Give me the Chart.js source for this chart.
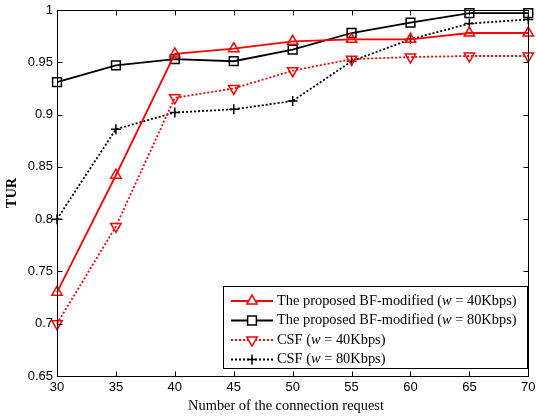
<!DOCTYPE html>
<html><head><meta charset="utf-8">
<script src="https://cdn.jsdelivr.net/npm/chart.js@4"></script>
<style>html,body{margin:0;padding:0;background:#fff}#wrap{width:536px;height:418px}</style>
</head><body><div id="wrap"><canvas id="c" width="536" height="418"></canvas></div>
<script>
const requests = [30, 35, 40, 45, 50, 55, 60, 65, 70];
const bf40  = [0.730, 0.842, 0.958, 0.963, 0.970, 0.972, 0.972, 0.978, 0.978];
const bf80  = [0.931, 0.947, 0.953, 0.951, 0.962, 0.978, 0.988, 0.997, 0.997];
const csf40 = [0.700, 0.793, 0.916, 0.925, 0.942, 0.953, 0.955, 0.956, 0.956];
const csf80 = [0.800, 0.886, 0.902, 0.905, 0.913, 0.951, 0.972, 0.987, 0.991];
const xTicks = [30, 35, 40, 45, 50, 55, 60, 65, 70];
const yTicks = [0.65, 0.7, 0.75, 0.8, 0.85, 0.9, 0.95, 1];
const seriesNames = [
  ["The proposed BF-modified (", "w", " = 40Kbps)"],
  ["The proposed BF-modified (", "w", " = 80Kbps)"],
  ["CSF (", "w", " = 40Kbps)"],
  ["CSF (", "w", " = 80Kbps)"]
];
const xTitle = "Number of the connection request";
const yTitle = "TUR";

const pts = v => requests.map((x, i) => ({x: x, y: v[i]}));
const styles = [
  {color: '#ff0000', dash: [], pointStyle: 'triangle', rot: 0, r: 6},
  {color: '#000000', dash: [], pointStyle: 'rect', rot: 0, r: 6.2},
  {color: '#ff0000', dash: [2, 2], pointStyle: 'triangle', rot: 180, r: 6},
  {color: '#000000', dash: [2, 2], pointStyle: 'cross', rot: 0, r: 5}
];
const values = [bf40, bf80, csf40, csf80];
const datasets = values.map((v, i) => ({
  label: seriesNames[i].join(''),
  data: pts(v),
  borderColor: styles[i].color,
  backgroundColor: 'rgba(0,0,0,0)',
  borderWidth: 1.8,
  borderDash: styles[i].dash,
  pointStyle: styles[i].pointStyle,
  pointRotation: styles[i].rot,
  pointRadius: styles[i].r,
  pointBorderWidth: 1.5,
  pointBorderColor: styles[i].color,
  pointBackgroundColor: 'rgba(0,0,0,0)',
  tension: 0,
  clip: false
}));

const decor = {
  id: 'decor',
  afterDraw(chart) {
    const ctx = chart.ctx, a = chart.chartArea;
    const xs = chart.scales.x, ys = chart.scales.y;
    ctx.save();
    ctx.strokeStyle = '#000'; ctx.lineWidth = 1; ctx.setLineDash([]);
    const L = Math.round(a.left) + 0.5, R = Math.round(a.right) + 0.5;
    const T = Math.round(a.top) + 0.5, B = Math.round(a.bottom) + 0.5;
    ctx.strokeRect(L, T, R - L, B - T);
    const tl = 5;
    ctx.beginPath();
    xTicks.forEach(v => {
      const px = Math.round(xs.getPixelForValue(v)) + 0.5;
      ctx.moveTo(px, B); ctx.lineTo(px, B - tl);
      ctx.moveTo(px, T); ctx.lineTo(px, T + tl);
    });
    yTicks.forEach(v => {
      const py = Math.round(ys.getPixelForValue(v)) + 0.5;
      ctx.moveTo(L, py); ctx.lineTo(L + tl, py);
      ctx.moveTo(R, py); ctx.lineTo(R - tl, py);
    });
    ctx.stroke();
    // axis titles
    ctx.fillStyle = '#000';
    ctx.font = '14.4px "Liberation Serif"';
    ctx.textAlign = 'center'; ctx.textBaseline = 'middle';
    ctx.fillText(xTitle, 286, 406);
    ctx.save();
    ctx.translate(12, (a.top + a.bottom) / 2);
    ctx.rotate(-Math.PI / 2);
    ctx.font = 'bold 14.4px "Liberation Serif"';
    ctx.fillText(yTitle, 0, 0);
    ctx.restore();
    // legend
    const lx = 223.5, ly = 286.5, lw = 304, lh = 82;
    ctx.fillStyle = '#fff';
    ctx.fillRect(lx, ly, lw, lh);
    ctx.strokeStyle = '#000'; ctx.lineWidth = 1;
    ctx.strokeRect(lx, ly, lw, lh);
    const rows = [301, 320.5, 340, 359.5];
    chart.data.datasets.forEach((ds, i) => {
      const y = rows[i];
      ctx.strokeStyle = ds.borderColor; ctx.lineWidth = ds.borderWidth;
      ctx.setLineDash(ds.borderDash);
      ctx.beginPath(); ctx.moveTo(231, y); ctx.lineTo(273, y); ctx.stroke();
      ctx.setLineDash([]);
      ctx.lineWidth = ds.pointBorderWidth;
      ctx.fillStyle = '#fff';
      Chart.helpers.drawPoint(ctx, {pointStyle: ds.pointStyle, rotation: ds.pointRotation, radius: ds.pointRadius, borderWidth: ds.pointBorderWidth}, 252, y);
      ctx.fillStyle = '#000'; ctx.textAlign = 'left'; ctx.textBaseline = 'middle';
      let x = 277;
      const parts = seriesNames[i];
      parts.forEach((p, k) => {
        ctx.font = (k === 1 ? 'italic ' : '') + '14.4px "Liberation Serif"';
        ctx.fillText(p, x, y);
        x += ctx.measureText(p).width;
      });
    });
    ctx.restore();
  }
};

new Chart(document.getElementById('c'), {
  type: 'line',
  data: {datasets: datasets},
  options: {
    responsive: false,
    animation: false,
    layout: {padding: {top: 10, right: 4, left: 0, bottom: 0}},
    plugins: {legend: {display: false}, tooltip: {enabled: false}},
    scales: {
      x: {
        type: 'linear', min: 30, max: 70,
        afterFit: s => { s.height = 42; s.paddingRight = 0; s.paddingLeft = 0; },
        afterBuildTicks: s => { s.ticks = xTicks.map(v => ({value: v})); },
        grid: {display: false, drawTicks: false},
        border: {display: false},
        ticks: {color: '#000', font: {family: 'Liberation Sans', size: 13}, padding: 4, maxRotation: 0, autoSkip: false}
      },
      y: {
        type: 'linear', min: 0.65, max: 1,
        afterFit: s => { s.width = 57; s.paddingTop = 0; s.paddingBottom = 0; },
        afterBuildTicks: s => { s.ticks = yTicks.map(v => ({value: v})); },
        grid: {display: false, drawTicks: false},
        border: {display: false},
        ticks: {color: '#000', font: {family: 'Liberation Sans', size: 13}, padding: 4,
          callback: v => String(Number(v.toFixed(2)))}
      }
    }
  },
  plugins: [decor]
});
</script></body></html>
